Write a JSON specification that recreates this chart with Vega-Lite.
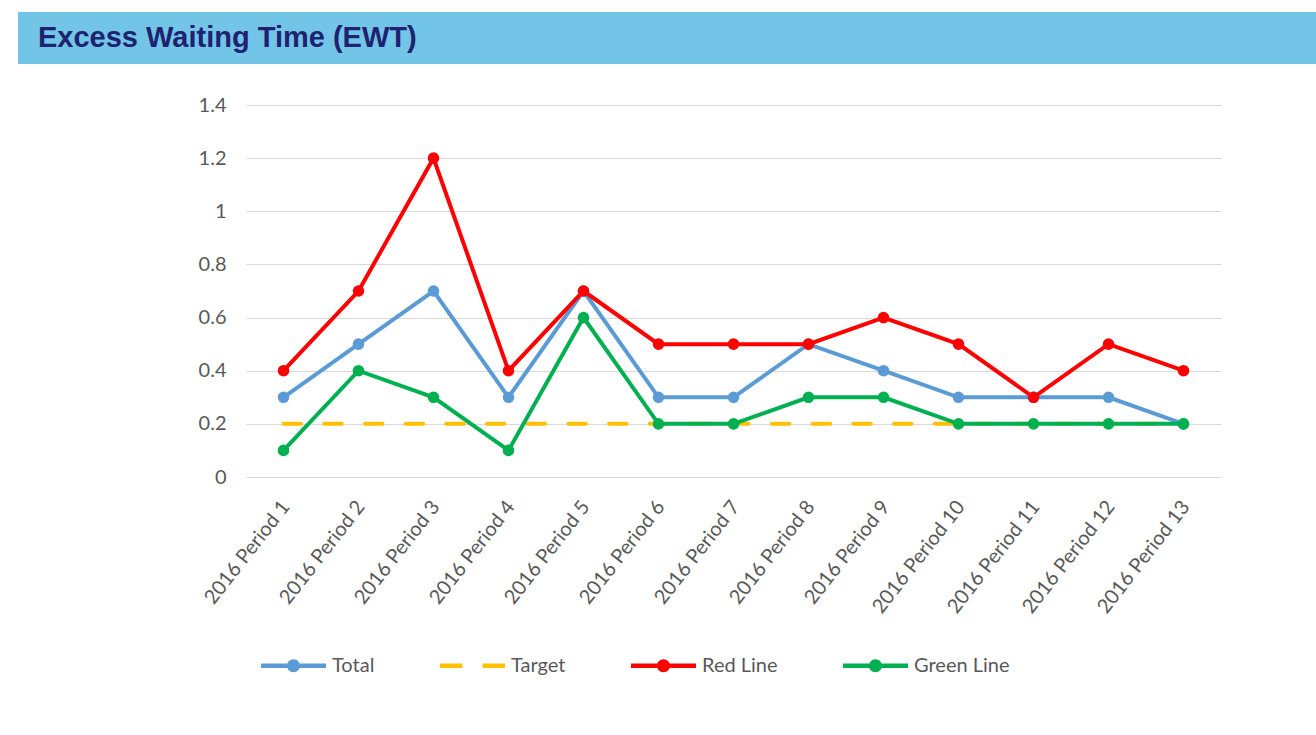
{
  "$schema": "https://vega.github.io/schema/vega-lite/v6.json",
  "background": "white",
  "padding": {"left": 38, "top": 12, "right": 0, "bottom": 0},
  "spacing": 31,
  "config": {"view": {"stroke": null}},
  "vconcat": [
    {
      "width": 1070,
      "height": 52,
      "view": {"fill": "#72C5E6", "stroke": null},
      "title": {"text": "Excess Waiting Time (EWT)", "anchor": "start", "orient": "top", "frame": "group", "offset": -64, "dx": -208, "baseline": "alphabetic", "font": "Liberation Sans", "fontSize": 29, "fontWeight": "bold", "color": "#1E2270"},
      "data": {"values": [{"t": "", "v": 0.5}]},
      "mark": {"type": "text"},
      "encoding": {
        "text": {"field": "t", "type": "nominal"},
        "y": {"field": "v", "type": "quantitative", "scale": {"domain": [0, 1]},
              "axis": {"title": null, "labels": false, "ticks": false, "grid": false, "domain": true, "domainColor": "#72C5E6", "domainWidth": 228, "domainCap": "butt", "offset": 114, "translate": 0, "minExtent": 0, "maxExtent": 400}}
      }
    },
    {
      "width": 975,
      "height": 372,
      "data": {"values": [
        {"period": "2016 Period 1", "n": 1, "series": "Total", "value": 0.3},
        {"period": "2016 Period 2", "n": 2, "series": "Total", "value": 0.5},
        {"period": "2016 Period 3", "n": 3, "series": "Total", "value": 0.7},
        {"period": "2016 Period 4", "n": 4, "series": "Total", "value": 0.3},
        {"period": "2016 Period 5", "n": 5, "series": "Total", "value": 0.7},
        {"period": "2016 Period 6", "n": 6, "series": "Total", "value": 0.3},
        {"period": "2016 Period 7", "n": 7, "series": "Total", "value": 0.3},
        {"period": "2016 Period 8", "n": 8, "series": "Total", "value": 0.5},
        {"period": "2016 Period 9", "n": 9, "series": "Total", "value": 0.4},
        {"period": "2016 Period 10", "n": 10, "series": "Total", "value": 0.3},
        {"period": "2016 Period 11", "n": 11, "series": "Total", "value": 0.3},
        {"period": "2016 Period 12", "n": 12, "series": "Total", "value": 0.3},
        {"period": "2016 Period 13", "n": 13, "series": "Total", "value": 0.2},
        {"period": "2016 Period 1", "n": 1, "series": "Target", "value": 0.2},
        {"period": "2016 Period 2", "n": 2, "series": "Target", "value": 0.2},
        {"period": "2016 Period 3", "n": 3, "series": "Target", "value": 0.2},
        {"period": "2016 Period 4", "n": 4, "series": "Target", "value": 0.2},
        {"period": "2016 Period 5", "n": 5, "series": "Target", "value": 0.2},
        {"period": "2016 Period 6", "n": 6, "series": "Target", "value": 0.2},
        {"period": "2016 Period 7", "n": 7, "series": "Target", "value": 0.2},
        {"period": "2016 Period 8", "n": 8, "series": "Target", "value": 0.2},
        {"period": "2016 Period 9", "n": 9, "series": "Target", "value": 0.2},
        {"period": "2016 Period 10", "n": 10, "series": "Target", "value": 0.2},
        {"period": "2016 Period 11", "n": 11, "series": "Target", "value": 0.2},
        {"period": "2016 Period 12", "n": 12, "series": "Target", "value": 0.2},
        {"period": "2016 Period 13", "n": 13, "series": "Target", "value": 0.2},
        {"period": "2016 Period 1", "n": 1, "series": "Red Line", "value": 0.4},
        {"period": "2016 Period 2", "n": 2, "series": "Red Line", "value": 0.7},
        {"period": "2016 Period 3", "n": 3, "series": "Red Line", "value": 1.2},
        {"period": "2016 Period 4", "n": 4, "series": "Red Line", "value": 0.4},
        {"period": "2016 Period 5", "n": 5, "series": "Red Line", "value": 0.7},
        {"period": "2016 Period 6", "n": 6, "series": "Red Line", "value": 0.5},
        {"period": "2016 Period 7", "n": 7, "series": "Red Line", "value": 0.5},
        {"period": "2016 Period 8", "n": 8, "series": "Red Line", "value": 0.5},
        {"period": "2016 Period 9", "n": 9, "series": "Red Line", "value": 0.6},
        {"period": "2016 Period 10", "n": 10, "series": "Red Line", "value": 0.5},
        {"period": "2016 Period 11", "n": 11, "series": "Red Line", "value": 0.3},
        {"period": "2016 Period 12", "n": 12, "series": "Red Line", "value": 0.5},
        {"period": "2016 Period 13", "n": 13, "series": "Red Line", "value": 0.4},
        {"period": "2016 Period 1", "n": 1, "series": "Green Line", "value": 0.1},
        {"period": "2016 Period 2", "n": 2, "series": "Green Line", "value": 0.4},
        {"period": "2016 Period 3", "n": 3, "series": "Green Line", "value": 0.3},
        {"period": "2016 Period 4", "n": 4, "series": "Green Line", "value": 0.1},
        {"period": "2016 Period 5", "n": 5, "series": "Green Line", "value": 0.6},
        {"period": "2016 Period 6", "n": 6, "series": "Green Line", "value": 0.2},
        {"period": "2016 Period 7", "n": 7, "series": "Green Line", "value": 0.2},
        {"period": "2016 Period 8", "n": 8, "series": "Green Line", "value": 0.3},
        {"period": "2016 Period 9", "n": 9, "series": "Green Line", "value": 0.3},
        {"period": "2016 Period 10", "n": 10, "series": "Green Line", "value": 0.2},
        {"period": "2016 Period 11", "n": 11, "series": "Green Line", "value": 0.2},
        {"period": "2016 Period 12", "n": 12, "series": "Green Line", "value": 0.2},
        {"period": "2016 Period 13", "n": 13, "series": "Green Line", "value": 0.2}
      ]},
      "encoding": {
        "x": {
          "field": "period", "type": "ordinal", "sort": null,
          "scale": {"type": "point", "padding": 0.5, "domain": ["2016 Period 1", "2016 Period 2", "2016 Period 3", "2016 Period 4", "2016 Period 5", "2016 Period 6", "2016 Period 7", "2016 Period 8", "2016 Period 9", "2016 Period 10", "2016 Period 11", "2016 Period 12", "2016 Period 13"]},
          "axis": {"title": null, "grid": false, "domain": false, "ticks": false, "labelAngle": -52, "labelAlign": "right", "labelBaseline": "middle", "labelPadding": 26, "labelOffset": 2, "labelFont": "Lato", "labelFontSize": 20, "labelColor": "#595959", "labelOverlap": false}
        },
        "y": {
          "field": "value", "type": "quantitative",
          "scale": {"domain": [0, 1.4], "nice": false, "zero": true},
          "axis": {"title": null, "values": [0, 0.2, 0.4, 0.6, 0.8, 1, 1.2, 1.4], "format": "~g", "grid": true, "gridColor": "#D9D9D9", "gridWidth": 1, "domain": false, "ticks": false, "labelPadding": 20, "labelFont": "Lato", "labelFontSize": 20, "labelColor": "#595959"}
        },
        "color": {
          "field": "series", "type": "nominal",
          "scale": {"domain": ["Total", "Target", "Red Line", "Green Line"], "range": ["#5B9BD5", "#FFC000", "#FF0000", "#00B050"]},
          "legend": {
            "title": null, "orient": "none", "legendX": 15, "legendY": 621, "direction": "horizontal", "columns": 4,
            "columnPadding": 65, "labelOffset": 6, "labelFont": "Lato", "labelFontSize": 20, "labelColor": "#595959",
            "symbolSize": 4225,
            "encode": {"symbols": {"update": {
              "shape": {"signal": "datum.value === 'Target' ? 'M-1,-0.07L-0.31,-0.07L-0.31,0.07L-1,0.07Z M0.31,-0.07L1,-0.07L1,0.07L0.31,0.07Z' : 'M-1,-0.068L1,-0.068L1,0.068L-1,0.068Z M-0.2,0A0.2,0.2,0,1,1,0.2,0A0.2,0.2,0,1,1,-0.2,0Z'"},
              "fill": {"scale": "color", "field": "value"},
              "stroke": {"value": "transparent"},
              "strokeWidth": {"value": 0},
              "size": {"value": 4225},
              "opacity": {"value": 1}
            }}}
          }
        },
        "order": {"field": "n", "type": "quantitative"}
      },
      "layer": [
        {"transform": [{"filter": "datum.series === 'Target'"}], "mark": {"type": "line", "strokeWidth": 4, "strokeDash": [17.5, 23.2], "strokeCap": "round"}},
        {"transform": [{"filter": "datum.series !== 'Target'"}], "mark": {"type": "line", "strokeWidth": 4}},
        {"transform": [{"filter": "datum.series !== 'Target'"}], "mark": {"type": "circle", "size": 135, "opacity": 1}}
      ]
    }
  ]
}
